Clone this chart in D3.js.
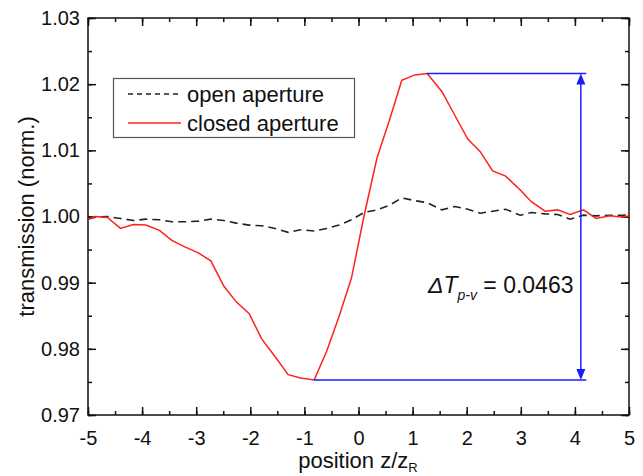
<!DOCTYPE html>
<html><head><meta charset="utf-8">
<script src="https://cdn.jsdelivr.net/npm/d3@7/dist/d3.min.js"></script>
<style>body{margin:0;background:#fff}svg{display:block}text{font-family:"Liberation Sans",Arial,sans-serif}</style>
</head><body><svg id="c" width="643" height="476"></svg>
<script>
const zPos = [-5.0,-4.87,-4.64,-4.40,-4.16,-3.93,-3.68,-3.45,-3.21,-2.96,-2.73,-2.49,-2.26,-2.02,-1.79,-1.54,-1.30,-1.07,-0.82,-0.59,-0.36,-0.13,0.10,0.34,0.57,0.80,1.04,1.27,1.54,1.78,2.02,2.25,2.48,2.72,2.99,3.20,3.45,3.68,3.91,4.16,4.39,4.65,4.89,5.0];
const closedAp = [0.9996,1.0000,0.99985,0.9982,0.9988,0.9987,0.9979,0.9964,0.9954,0.9945,0.9933,0.9895,0.9871,0.9853,0.9815,0.9788,0.9761,0.9756,0.9753,0.9796,0.9849,0.9907,1.0000,1.0088,1.0145,1.0206,1.0214,1.0216,1.0189,1.0153,1.0117,1.0098,1.0069,1.0061,1.0040,1.0022,1.0008,1.0010,1.0003,1.0010,0.9997,1.0001,0.9999,1.0001];
const openAp = [0.9996,0.9999,1.0000,0.9997,0.9994,0.9996,0.9995,0.9992,0.9992,0.9993,0.9996,0.9994,0.9990,0.9987,0.9986,0.9982,0.9976,0.9980,0.9978,0.9982,0.9987,0.9995,1.0006,1.0010,1.0017,1.0028,1.0024,1.0021,1.0010,1.0015,1.0011,1.0005,1.0008,1.0011,1.0002,1.0006,1.0004,1.0003,0.9996,1.0002,1.0001,1.0002,1.0002,1.0003];
const xTicks = [-5,-4,-3,-2,-1,0,1,2,3,4,5];
const yTicks = [0.97,0.98,0.99,1.00,1.01,1.02,1.03];
const seriesNames = ["open aperture","closed aperture"];
const arrowZ = 4.11, lineEndZ = 4.21;
const deltaLabel = "0.0463";

const svg = d3.select("#c");
const L=88, R=629, T=18, B=415;
const x = d3.scaleLinear().domain([-5,5]).range([L,R]);
const y = d3.scaleLinear().domain([0.97,1.03]).range([B,T]);
const font = '"Liberation Sans",Arial,sans-serif';

function minorTicks(sc, step){ const [a,b]=sc.domain(); const r=[]; for(let v=a; v<=b+1e-9; v+=step) r.push(+v.toFixed(4)); return r; }
const xMinor = minorTicks(x,0.5), yMinor = minorTicks(y,0.005);
const g = svg.append("g");
g.append("g").attr("transform",`translate(0,${B})`).call(d3.axisBottom(x).tickValues(xMinor).tickSize(-4).tickFormat("")).call(s=>s.select(".domain").remove());
g.append("g").attr("transform",`translate(0,${B})`).call(d3.axisBottom(x).tickValues(xTicks).tickSize(-8).tickPadding(16).tickFormat(d=>String(d)))
 .call(s=>s.select(".domain").remove()).call(s=>s.selectAll("text").attr("font-size",20).attr("font-family",font).attr("fill","#111"));
g.append("g").attr("transform",`translate(0,${T})`).call(d3.axisTop(x).tickValues(xMinor).tickSize(-4).tickFormat("")).call(s=>s.select(".domain").remove());
g.append("g").attr("transform",`translate(0,${T})`).call(d3.axisTop(x).tickValues(xTicks).tickSize(-8).tickFormat("")).call(s=>s.select(".domain").remove());
g.append("g").attr("transform",`translate(${L},0)`).call(d3.axisLeft(y).tickValues(yMinor).tickSize(-4).tickFormat("")).call(s=>s.select(".domain").remove());
g.append("g").attr("transform",`translate(${L},0)`).call(d3.axisLeft(y).tickValues(yTicks).tickSize(-8).tickPadding(8).tickFormat(d3.format(".2f")))
 .call(s=>s.select(".domain").remove()).call(s=>s.selectAll("text").attr("font-size",20).attr("font-family",font).attr("fill","#111"));
g.append("g").attr("transform",`translate(${R},0)`).call(d3.axisRight(y).tickValues(yMinor).tickSize(-4).tickFormat("")).call(s=>s.select(".domain").remove());
g.append("g").attr("transform",`translate(${R},0)`).call(d3.axisRight(y).tickValues(yTicks).tickSize(-8).tickFormat("")).call(s=>s.select(".domain").remove());
g.selectAll(".tick line").attr("stroke","#111").attr("stroke-width",1.5);
g.append("rect").attr("x",L).attr("y",T).attr("width",R-L).attr("height",B-T).attr("fill","none").attr("stroke","#111").attr("stroke-width",1.5);

const line = d3.line().x(d=>x(d[0])).y(d=>y(d[1]));
svg.append("path").datum(zPos.map((z,i)=>[z,openAp[i]])).attr("d",line).attr("fill","none").attr("stroke","#222").attr("stroke-width",1.6).attr("stroke-dasharray","8,5");
svg.append("path").datum(zPos.map((z,i)=>[z,closedAp[i]])).attr("d",line).attr("fill","none").attr("stroke","#ff2020").attr("stroke-width",1.5);

const iMax = d3.maxIndex(closedAp), iMin = d3.minIndex(closedAp);
const blue="#1a1aff";
const an = svg.append("g").attr("stroke",blue).attr("stroke-width",1.5);
an.append("line").attr("x1",x(zPos[iMax])).attr("x2",x(lineEndZ)).attr("y1",y(closedAp[iMax])).attr("y2",y(closedAp[iMax]));
an.append("line").attr("x1",x(zPos[iMin])).attr("x2",x(lineEndZ)).attr("y1",y(closedAp[iMin])).attr("y2",y(closedAp[iMin]));
an.append("line").attr("x1",x(arrowZ)).attr("x2",x(arrowZ)).attr("y1",y(closedAp[iMax])+8).attr("y2",y(closedAp[iMin])-8);
const ax=x(arrowZ), yt=y(closedAp[iMax]), yb=y(closedAp[iMin]);
svg.append("path").attr("d",`M${ax},${yt} L${ax-4.5},${yt+11} L${ax+4.5},${yt+11} Z`).attr("fill",blue);
svg.append("path").attr("d",`M${ax},${yb} L${ax-4.5},${yb-11} L${ax+4.5},${yb-11} Z`).attr("fill",blue);

const t = svg.append("text").attr("x",428).attr("y",293).attr("font-size",23).attr("fill","#111").attr("font-family",font);
t.append("tspan").attr("font-style","italic").text("ΔT");
t.append("tspan").attr("font-style","italic").attr("font-size",14).attr("dy",7).text("p-v");
t.append("tspan").attr("dy",-7).text(" = "+deltaLabel);

const lg = svg.append("g");
lg.append("rect").attr("x",113.5).attr("y",78.5).attr("width",241).attr("height",59).attr("fill","#fff").attr("stroke","#555").attr("stroke-width",1.2);
const rows=[{name:seriesNames[0],c:"#222",dash:"5,4",yy:94},{name:seriesNames[1],c:"#ff2020",dash:null,yy:123}];
rows.forEach(r=>{
  lg.append("line").attr("x1",128).attr("x2",181).attr("y1",r.yy).attr("y2",r.yy).attr("stroke",r.c).attr("stroke-width",1.5).attr("stroke-dasharray",r.dash);
  lg.append("text").attr("x",187).attr("y",r.yy+8).attr("font-size",22).attr("fill","#111").attr("font-family",font).text(r.name);
});

const xt = svg.append("text").attr("x",358).attr("y",468).attr("text-anchor","middle").attr("font-size",22).attr("fill","#111").attr("font-family",font);
xt.append("tspan").text("position z/z");
xt.append("tspan").attr("font-size",13).attr("dy",4).text("R");
svg.append("text").attr("transform",`translate(34,${(T+B)/2}) rotate(-90)`).attr("text-anchor","middle").attr("font-size",22).attr("fill","#111").attr("font-family",font).text("transmission (norm.)");
</script></body></html>
